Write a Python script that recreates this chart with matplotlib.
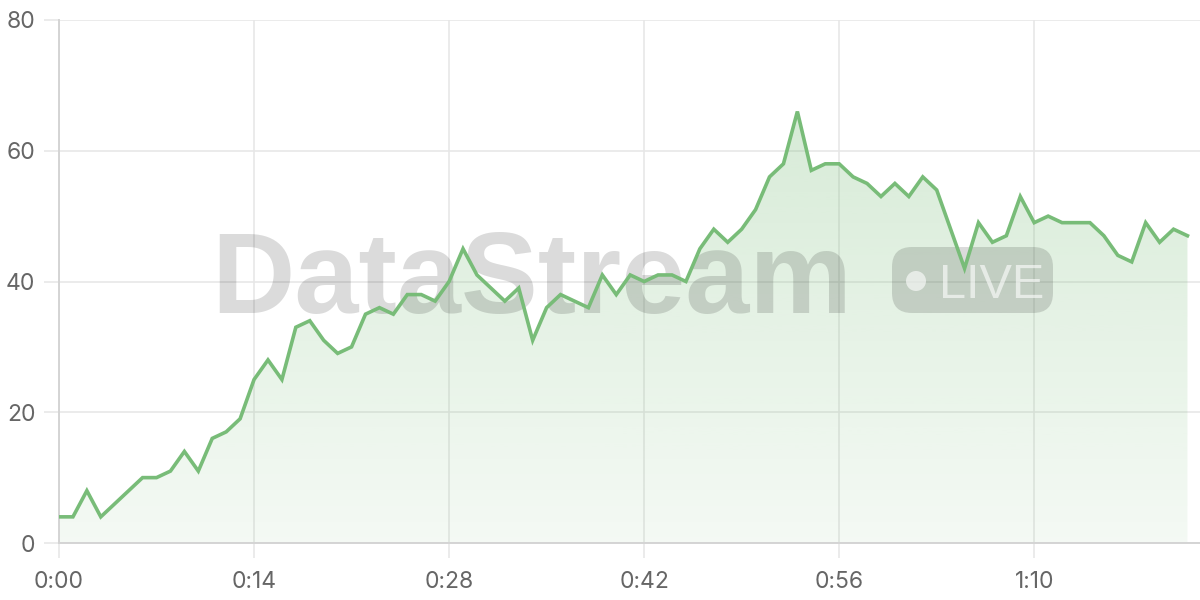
import matplotlib
matplotlib.use("Agg")
import matplotlib.pyplot as plt
from matplotlib.patches import FancyBboxPatch, Circle, Polygon
import numpy as np

# === Datos (un valor por segundo) ===
valores = [4, 4, 8, 4, 6, 8, 10, 10, 11, 14, 11, 16, 17, 19, 25, 28, 25, 33, 34, 31,
           29, 30, 35, 36, 35, 38, 38, 37, 40, 45, 41, 39, 37, 39, 31, 36, 38, 37, 36, 41,
           38, 41, 40, 41, 41, 40, 45, 48, 46, 48, 51, 56, 58, 66, 57, 58, 58, 56, 55, 53,
           55, 53, 56, 54, 48, 42, 49, 46, 47, 53, 49, 50, 49, 49, 49, 47, 44, 43, 49, 46,
           48, 47]
segundos = np.arange(len(valores))
ticks_x = [0, 14, 28, 42, 56, 70]
etiquetas_x = ["0:00", "0:14", "0:28", "0:42", "0:56", "1:10"]
ticks_y = [0, 20, 40, 60, 80]

verde = (120 / 255, 188 / 255, 120 / 255)
gris_grid = "#e6e6e6"
gris_texto = "#666666"

plt.rcParams['font.family'] = ['Inter', 'DejaVu Sans']

fig = plt.figure(figsize=(12, 6), dpi=100)
ax = fig.add_axes([59 / 1200, 57 / 600, 1 - 59 / 1200, 523 / 600])
ax.set_xlim(0, 81.9)
ax.set_ylim(0, 80)

# grid y ejes
ax.set_xticks(ticks_x)
ax.set_xticklabels(etiquetas_x)
ax.set_yticks(ticks_y)
ax.grid(True, color=gris_grid, linewidth=1.1, zorder=0)
ax.tick_params(axis='both', length=11, width=1.1, color=gris_grid,
               labelsize=16.5, labelcolor=gris_texto)
ax.tick_params(axis='x', pad=9)
ax.tick_params(axis='y', pad=6)
for lado in ["top", "right"]:
    ax.spines[lado].set_visible(False)
for lado in ["left", "bottom"]:
    ax.spines[lado].set_color("#d4d4d4")
    ax.spines[lado].set_linewidth(1.4)
ax.set_axisbelow(True)

# relleno con degradado
alfa = np.linspace(0.08, 0.34, 256)[::-1]
grad = np.zeros((256, 1, 4))
grad[:, 0, 0] = verde[0]
grad[:, 0, 1] = verde[1]
grad[:, 0, 2] = verde[2]
grad[:, 0, 3] = alfa
img = ax.imshow(grad, extent=(0, segundos[-1], 0, 80), aspect='auto',
                origin='upper', zorder=1)
poly = np.column_stack([np.r_[segundos, segundos[-1], 0],
                        np.r_[valores, 0, 0]])
clip = Polygon(poly, closed=True, facecolor='none', edgecolor='none')
ax.add_patch(clip)
img.set_clip_path(clip)

ax.plot(segundos, valores, color=verde, linewidth=2.6, zorder=3,
        solid_joinstyle='miter')

# === Marca de agua (debajo de la linea) ===
ax.text(211 / 1200, 1 - 313 / 600, "DataStream", transform=fig.transFigure,
        family="Liberation Sans", fontweight="bold", fontsize=83,
        color="black", alpha=0.14, ha="left", va="baseline", zorder=2)
pill = FancyBboxPatch((892, 600 - 313), 161, 66,
                      boxstyle="round,pad=0,rounding_size=20",
                      transform=None, facecolor="black", alpha=0.14,
                      edgecolor="none", zorder=2, clip_on=False)
ax.add_artist(pill)
punto = Circle((916, 600 - 281), 10, transform=None, facecolor="white",
               alpha=0.6, edgecolor="none", zorder=2.1, clip_on=False)
ax.add_artist(punto)
ax.text(939 / 1200, 1 - 298 / 600, "LIVE", transform=fig.transFigure,
        family="Liberation Sans", fontsize=35, color="white", alpha=0.6,
        ha="left", va="baseline", zorder=2.1)

fig.savefig("out.png", dpi=100)
plt.close()
